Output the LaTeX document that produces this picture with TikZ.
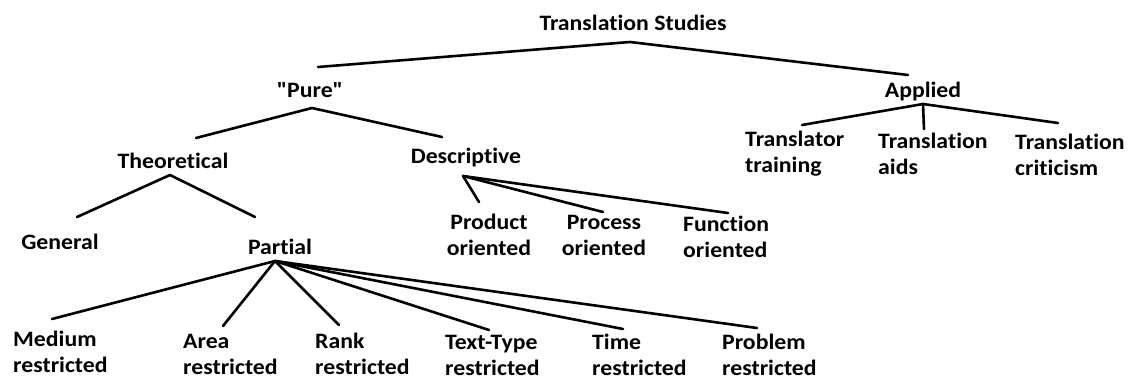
\documentclass[tikz,border=0pt]{standalone}
\usepackage{fontspec}
\newfontfamily\calfont{Carlito}[Ligatures=NoCommon,FakeStretch=1.08]
\begin{document}
\begin{tikzpicture}[x=1pt,y=-1pt,
  lbl/.style={inner sep=0pt,font=\calfont\fontsize{22}{26}\selectfont\bfseries,align=left},
  lblc/.style={lbl,align=center},
  conn/.style={line width=2.6pt,line cap=round,black}]
\useasboundingbox (0,0) rectangle (1133,380);
% nodes
\node[lblc] (ts) at (633,23) {Translation Studies};
\node[lblc] (pure) at (310,90) {"Pure"};
\node[lblc] (applied) at (923,92) {Applied};
\node[lblc] (theo) at (173,161) {Theoretical};
\node[lblc] (desc) at (466,158) {Descriptive};
\node[lbl,anchor=west] (ttrain) at (745,154) {Translator\\training};
\node[lbl,anchor=west] (taids) at (878,154) {Translation\\aids};
\node[lbl,anchor=west] (tcrit) at (1015,155) {Translation\\criticism};
\node[lblc] (general) at (60,242) {General};
\node[lblc] (partial) at (280,247) {Partial};
\node[lblc] (prod) at (489,235) {Product\\oriented};
\node[lblc] (proc) at (604,235) {Process\\oriented};
\node[lbl,anchor=west] (func) at (683,237) {Function\\oriented};
\node[lbl,anchor=west] (medium) at (13,352) {Medium\\restricted};
\node[lbl,anchor=west] (area) at (183,354) {Area\\restricted};
\node[lbl,anchor=west] (rank) at (315,354) {Rank\\restricted};
\node[lbl,anchor=west] (texttype) at (445,355) {Text-Type\\restricted};
\node[lbl,anchor=west] (time) at (592,355) {Time\\restricted};
\node[lbl,anchor=west] (problem) at (722,355) {Problem\\restricted};
% connector points
\coordinate (tsA) at (630,42);
\coordinate (pureT) at (318,67);
\coordinate (appliedT) at (908,75);
\coordinate (pureA) at (312,108);
\coordinate (theoT) at (196,138);
\coordinate (descT) at (442,137);
\coordinate (appliedA) at (923,104);
\coordinate (ttrainT) at (802,125);
\coordinate (taidsT) at (924,129);
\coordinate (tcritT) at (1058,123);
\coordinate (theoA) at (170,175);
\coordinate (generalT) at (77,217);
\coordinate (partialT) at (255,217);
\coordinate (descA) at (463,176);
\coordinate (prodT) at (479,202);
\coordinate (procT) at (603,212);
\coordinate (funcT) at (728,213);
\coordinate (partialA) at (275,261);
\coordinate (mediumT) at (52,319);
\coordinate (areaT) at (223,326);
\coordinate (rankT) at (339,325);
\coordinate (texttypeT) at (489,330);
\coordinate (timeT) at (623,329);
\coordinate (problemT) at (757,328);
% connectors
\draw[conn] (tsA) -- (pureT);
\draw[conn] (tsA) -- (appliedT);
\draw[conn] (pureA) -- (theoT);
\draw[conn] (pureA) -- (descT);
\draw[conn] (appliedA) -- (ttrainT);
\draw[conn] (appliedA) -- (taidsT);
\draw[conn] (appliedA) -- (tcritT);
\draw[conn] (theoA) -- (generalT);
\draw[conn] (theoA) -- (partialT);
\draw[conn] (descA) -- (prodT);
\draw[conn] (descA) -- (procT);
\draw[conn] (descA) -- (funcT);
\draw[conn] (partialA) -- (mediumT);
\draw[conn] (partialA) -- (areaT);
\draw[conn] (partialA) -- (rankT);
\draw[conn] (partialA) -- (texttypeT);
\draw[conn] (partialA) -- (timeT);
\draw[conn] (partialA) -- (problemT);
\end{tikzpicture}
\end{document}
